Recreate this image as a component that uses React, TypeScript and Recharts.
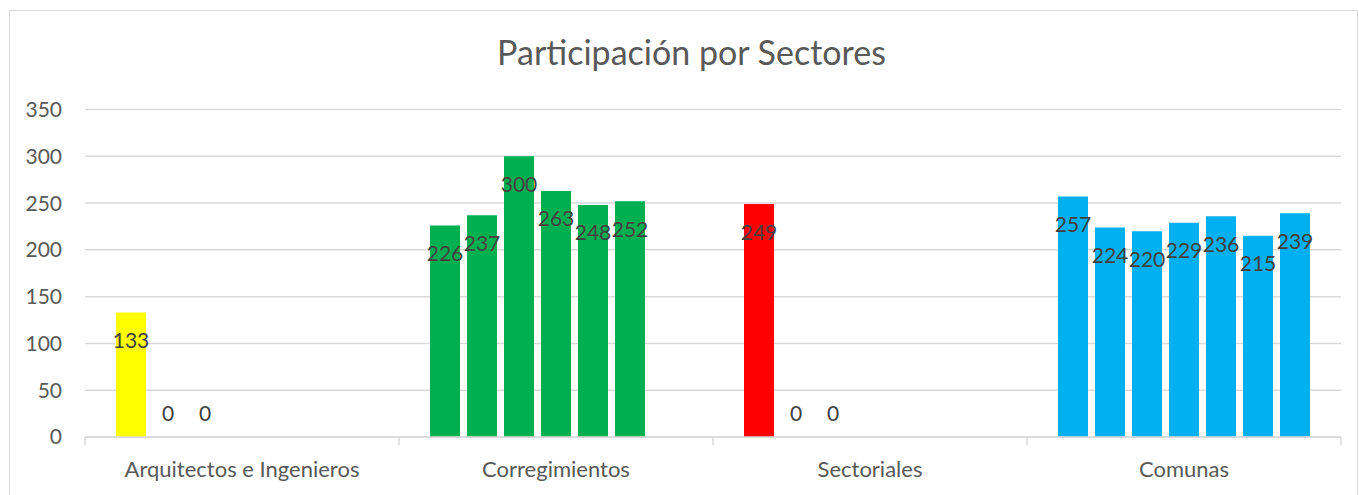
import { BarChart, Bar, XAxis, YAxis, CartesianGrid, Cell, LabelList, Rectangle } from 'recharts';

const categories = ['Arquitectos e Ingenieros', 'Corregimientos', 'Sectoriales', 'Comunas'];
const arquitectos = [133, 0, 0];
const corregimientos = [226, 237, 300, 263, 248, 252];
const sectoriales = [249, 0, 0];
const comunas = [257, 224, 220, 229, 236, 215, 239];
const yTicks = [0, 50, 100, 150, 200, 250, 300, 350];

const COLORS = ['#FFFF00', '#00B050', '#FF0000', '#00B0F0'];
const FONT = 'Lato, "Open Sans", sans-serif';
const SLOTS = 7;

const groups = [arquitectos, corregimientos, sectoriales, comunas];
const data = categories.map((name, i) => {
  const row: Record<string, string | number | null> = { name };
  for (let s = 0; s < SLOTS; s++) {
    row[`s${s}`] = s < groups[i].length ? groups[i][s] : null;
  }
  return row;
});

// zero bars get a 1px min height so their label still renders; the shape hides them
const BarShape = (props: any) => {
  if (props.value === 0 || props.value === null || props.value === undefined) return null;
  return <Rectangle {...props} />;
};

const renderValueLabel = (props: any) => {
  const { x, y, width, height, value } = props;
  if (value === null || value === undefined) return null;
  const cy = value === 0 ? y + height - 25 : y + 27;
  return (
    <text
      x={x + width / 2}
      y={cy}
      textAnchor="middle"
      dominantBaseline="central"
      fill="#404040"
      fontSize={21}
      fontFamily={FONT}
    >
      {value}
    </text>
  );
};

const CategoryTick = (props: any) => {
  const { x, y, payload, width, visibleTicksCount, index } = props;
  const half = payload?.offset ? payload.offset : width / visibleTicksCount / 2;
  return (
    <g>
      <line x1={x - half} x2={x - half} y1={y} y2={y + 8} stroke="#d9d9d9" strokeWidth={1.5} />
      {index === visibleTicksCount - 1 && (
        <line x1={x + half} x2={x + half} y1={y} y2={y + 8} stroke="#d9d9d9" strokeWidth={1.5} />
      )}
      <text x={x} y={y + 40} textAnchor="middle" fill="#595959" fontSize={22} fontFamily={FONT}>
        {payload.value}
      </text>
    </g>
  );
};

export default function App() {
  return (
    <div
      style={{
        position: 'absolute',
        left: 0,
        top: 0,
        width: 1359,
        height: 495,
        overflow: 'hidden',
        background: '#fff',
      }}
    >
      <div
        style={{
          position: 'absolute',
          left: 9,
          top: 10,
          width: 1349,
          height: 600,
          border: '1.5px solid #d9d9d9',
          boxSizing: 'border-box',
        }}
      />
      <div
        style={{
          position: 'absolute',
          left: 0,
          top: 32,
          width: 1383,
          textAlign: 'center',
          fontFamily: FONT,
          fontSize: 34,
          color: '#595959',
          lineHeight: '40px',
        }}
      >
        Participación por Sectores
      </div>
      <div style={{ position: 'absolute', left: 0, top: 0 }}>
        <BarChart
          width={1359}
          height={495}
          data={data}
          margin={{ top: 109.5, right: 18, bottom: 0, left: 0 }}
          barCategoryGap={31}
          barGap={7}
        >
          <CartesianGrid vertical={false} stroke="#d9d9d9" strokeWidth={1.5} />
          <XAxis
            dataKey="name"
            height={58}
            axisLine={{ stroke: '#d9d9d9', strokeWidth: 1.5 }}
            tickLine={false}
            tickSize={0}
            tickMargin={0}
            interval={0}
            tick={<CategoryTick />}
          />
          <YAxis
            width={85}
            domain={[0, 350]}
            ticks={yTicks}
            axisLine={false}
            tickLine={false}
            tickSize={0}
            tickMargin={23}
            tick={{ fill: '#595959', fontSize: 21, fontFamily: FONT }}
          />
          {Array.from({ length: SLOTS }, (_, s) => (
            <Bar
              key={s}
              dataKey={`s${s}`}
              isAnimationActive={false}
              minPointSize={1}
              shape={<BarShape />}
            >
              {data.map((_, i) => (
                <Cell key={`cell-${i}`} fill={COLORS[i]} />
              ))}
              <LabelList dataKey={`s${s}`} content={renderValueLabel} />
            </Bar>
          ))}
        </BarChart>
      </div>
    </div>
  );
}
